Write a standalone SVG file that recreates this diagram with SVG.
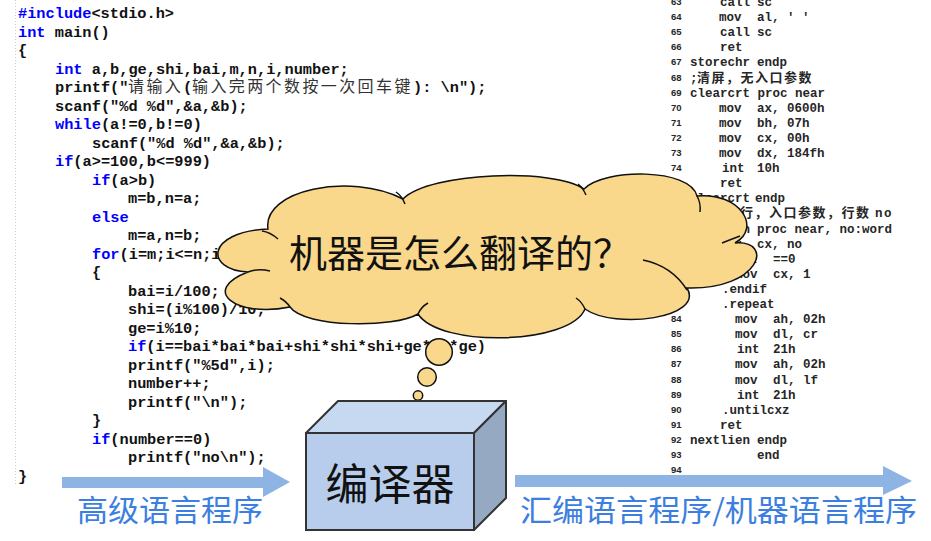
<svg xmlns="http://www.w3.org/2000/svg" width="931" height="541" viewBox="0 0 931 541">
<style>
.c{font-family:"Liberation Mono","DejaVu Sans Mono",monospace;font-size:15.3px;font-weight:bold;fill:#111}
.k{fill:#0000ff}
.cj{font-family:"Noto Sans CJK SC",sans-serif;font-weight:normal;font-size:16px;letter-spacing:2.4px;fill:#333}
.a{font-family:"Liberation Mono","DejaVu Sans Mono",monospace;font-size:12.5px;font-weight:bold;fill:#262626}
.acj{font-family:"Noto Sans CJK SC",sans-serif;font-size:13px;letter-spacing:1.5px;font-weight:bold;fill:#262626}
.n{font-family:"Liberation Sans",Arial,sans-serif;font-size:9.5px;font-weight:bold;fill:#262626}
.cloud{fill:#F9D88C;stroke:#111;stroke-width:1.5}
.crease{fill:none;stroke:#111;stroke-width:1.5}
.big{font-family:"Noto Sans CJK SC",sans-serif;fill:#111}
.lbl{font-family:"Noto Sans CJK SC",sans-serif;font-size:30px;fill:#3C7FE0}
.arrow{fill:#8DB4E2}
</style>
<rect width="931" height="541" fill="#ffffff"/>
<line x1="15.5" y1="0" x2="15.5" y2="485" stroke="#d0d0d0" stroke-width="1" stroke-dasharray="1 2"/>
<g id="c-code">
<text class="c" x="18" y="18"><tspan class="k">#include</tspan>&lt;stdio.h&gt;</text>
<text class="c" x="18" y="36.5"><tspan class="k">int</tspan> main()</text>
<text class="c" x="18" y="55">{</text>
<text class="c" x="55" y="73.5"><tspan class="k">int</tspan> a,b,ge,shi,bai,m,n,i,number;</text>
<text class="c" y="92"><tspan x="55">printf("</tspan><tspan class="cj" x="128">请输入</tspan><tspan x="183">(</tspan><tspan class="cj" x="192">输入完两个数按一次回车键</tspan><tspan x="413">): \n");</tspan></text>
<text class="c" x="55" y="110.5">scanf("%d %d",&amp;a,&amp;b);</text>
<text class="c" x="55" y="129"><tspan class="k">while</tspan>(a!=0,b!=0)</text>
<text class="c" x="92" y="147.5">scanf("%d %d",&amp;a,&amp;b);</text>
<text class="c" x="55" y="166"><tspan class="k">if</tspan>(a&gt;=100,b&lt;=999)</text>
<text class="c" x="92" y="184.5"><tspan class="k">if</tspan>(a&gt;b)</text>
<text class="c" x="128" y="203">m=b,n=a;</text>
<text class="c" x="92" y="221.5"><tspan class="k">else</tspan></text>
<text class="c" x="128" y="240">m=a,n=b;</text>
<text class="c" x="92" y="258.5"><tspan class="k">for</tspan>(i=m;i&lt;=n;i++)</text>
<text class="c" x="92" y="277">{</text>
<text class="c" x="128" y="295.5">bai=i/100;</text>
<text class="c" x="128" y="314">shi=(i%100)/10;</text>
<text class="c" x="128" y="332.5">ge=i%10;</text>
<text class="c" x="128" y="351"><tspan class="k">if</tspan>(i==bai*bai*bai+shi*shi*shi+ge*ge*ge)</text>
<text class="c" x="128" y="369.5">printf("%5d",i);</text>
<text class="c" x="128" y="388">number++;</text>
<text class="c" x="128" y="406.5">printf("\n");</text>
<text class="c" x="92" y="425">}</text>
<text class="c" x="92" y="443.5"><tspan class="k">if</tspan>(number==0)</text>
<text class="c" x="128" y="462">printf("no\n");</text>
<text class="c" x="18" y="480.5">}</text>
</g>
<g id="asm-code">
<text class="n" x="671" y="5">63</text><text class="a" y="6"><tspan x="720">call</tspan><tspan x="757">sc</tspan></text>
<text class="n" x="671" y="20.1">64</text><text class="a" y="21.1"><tspan x="719">mov</tspan><tspan x="757">al, ' '</tspan></text>
<text class="n" x="671" y="35.2">65</text><text class="a" y="36.2"><tspan x="720">call</tspan><tspan x="757">sc</tspan></text>
<text class="n" x="671" y="50.3">66</text><text class="a" y="51.3"><tspan x="720">ret</tspan></text>
<text class="n" x="671" y="65.4">67</text><text class="a" y="66.4"><tspan x="690">storechr</tspan><tspan x="757">endp</tspan></text>
<text class="n" x="671" y="80.5">68</text><text class="a" y="81.5"><tspan x="690">;</tspan><tspan class="acj" x="697">清屏，无入口参数</tspan></text>
<text class="n" x="671" y="95.6">69</text><text class="a" x="690" y="96.6">clearcrt proc near</text>
<text class="n" x="671" y="110.7">70</text><text class="a" y="111.7"><tspan x="719">mov</tspan><tspan x="757">ax, 0600h</tspan></text>
<text class="n" x="671" y="125.8">71</text><text class="a" y="126.8"><tspan x="719">mov</tspan><tspan x="757">bh, 07h</tspan></text>
<text class="n" x="671" y="140.9">72</text><text class="a" y="141.9"><tspan x="719">mov</tspan><tspan x="757">cx, 00h</tspan></text>
<text class="n" x="671" y="156">73</text><text class="a" y="157"><tspan x="719">mov</tspan><tspan x="757">dx, 184fh</tspan></text>
<text class="n" x="671" y="171.1">74</text><text class="a" y="172.1"><tspan x="722">int</tspan><tspan x="757">10h</tspan></text>
<text class="a" y="187.2"><tspan x="720">ret</tspan></text>
<text class="a" y="202.3"><tspan x="690">clearcrt</tspan><tspan x="755">endp</tspan></text>
<text class="acj" x="740" y="217.4">行，入口参数，行数 <tspan class="a">no</tspan></text>
<text class="a" y="232.5"><tspan x="690">nextlien</tspan><tspan x="757">proc near, no:word</tspan></text>
<text class="a" y="247.6"><tspan x="719">mov</tspan><tspan x="757">cx, no</tspan></text>
<text class="a" y="262.7"><tspan x="722">.if</tspan><tspan x="742">cx</tspan><tspan x="773">==0</tspan></text>
<text class="a" y="277.8"><tspan x="735">mov</tspan><tspan x="773">cx, 1</tspan></text>
<text class="a" y="292.9"><tspan x="722">.endif</tspan></text>
<text class="n" x="671" y="307">83</text><text class="a" y="308"><tspan x="722">.repeat</tspan></text>
<text class="n" x="671" y="322.1">84</text><text class="a" y="323.1"><tspan x="735">mov</tspan><tspan x="773">ah, 02h</tspan></text>
<text class="n" x="671" y="337.2">85</text><text class="a" y="338.2"><tspan x="735">mov</tspan><tspan x="773">dl, cr</tspan></text>
<text class="n" x="671" y="352.3">86</text><text class="a" y="353.3"><tspan x="737">int</tspan><tspan x="773">21h</tspan></text>
<text class="n" x="671" y="367.4">87</text><text class="a" y="368.4"><tspan x="735">mov</tspan><tspan x="773">ah, 02h</tspan></text>
<text class="n" x="671" y="382.5">88</text><text class="a" y="383.5"><tspan x="735">mov</tspan><tspan x="773">dl, lf</tspan></text>
<text class="n" x="671" y="397.6">89</text><text class="a" y="398.6"><tspan x="737">int</tspan><tspan x="773">21h</tspan></text>
<text class="n" x="671" y="412.7">90</text><text class="a" y="413.7"><tspan x="722">.untilcxz</tspan></text>
<text class="n" x="671" y="427.8">91</text><text class="a" y="428.8"><tspan x="720">ret</tspan></text>
<text class="n" x="671" y="442.9">92</text><text class="a" y="443.9"><tspan x="690">nextlien</tspan><tspan x="757">endp</tspan></text>
<text class="n" x="671" y="458">93</text><text class="a" y="459"><tspan x="757">end</tspan></text>
<text class="n" x="671" y="473.1">94</text>
</g>
<g id="cloud">
<path class="cloud" d="M248,272 C205,270 205,232 268,229 C262,190 350,172 403,199 C430,172 555,168 584,189 C605,168 690,168 697,196 C740,192 762,228 735,243 C775,240 760,290 687,288 C705,318 615,330 585,309 C570,345 440,348 418,314 C395,328 305,328 290,307 C235,318 200,290 248,272 Z"/>
<path class="crease" d="M262,231 Q270,232 278,239"/>
<path class="crease" d="M396,192 Q402,196 405,204"/>
<path class="crease" d="M578,184 Q583,188 586,195"/>
<path class="crease" d="M697,196 Q701,203 700,212"/>
<path class="crease" d="M722,243 Q732,239 740,236"/>
<path class="crease" d="M687,290 Q672,266 643,260"/>
<path class="crease" d="M585,309 Q582,302 576,298"/>
<path class="crease" d="M418,314 Q421,307 428,303"/>
<path class="crease" d="M290,307 Q286,301 280,298"/>
<path class="crease" d="M248,272 Q258,268 270,271"/>
<text class="big" x="460" y="267" font-size="38" text-anchor="middle">机器是怎么翻译的？</text>
</g>
<g id="bubbles">
<circle class="cloud" cx="439" cy="352" r="13.3"/>
<circle class="cloud" cx="427" cy="377" r="9.3"/>
<circle class="cloud" cx="418" cy="395.5" r="4.7"/>
</g>
<g id="compiler">
<polygon points="306,433 338,401 506,401 474,433" fill="#C6D9F1" stroke="#333" stroke-width="2" stroke-linejoin="round"/>
<polygon points="474,433 506,401 506,498 474,530" fill="#95A9C3" stroke="#333" stroke-width="2" stroke-linejoin="round"/>
<rect x="306" y="433" width="168" height="97" fill="#B7CDEB" stroke="#333" stroke-width="2"/>
<text class="big" x="390" y="500" font-size="43" text-anchor="middle">编译器</text>
</g>
<g id="connectors">
<polygon class="arrow" points="62,477 263,477 263,467 290,482 263,497 263,488 62,488"/>
<polygon class="arrow" points="515,475 883,475 883,466 912,481 883,495 883,487 515,487"/>
</g>
<g id="labels">
<text class="lbl" x="77" y="521" textLength="186" lengthAdjust="spacingAndGlyphs">高级语言程序</text>
<text class="lbl" x="520" y="521" textLength="397" lengthAdjust="spacingAndGlyphs">汇编语言程序/机器语言程序</text>
</g>
</svg>
